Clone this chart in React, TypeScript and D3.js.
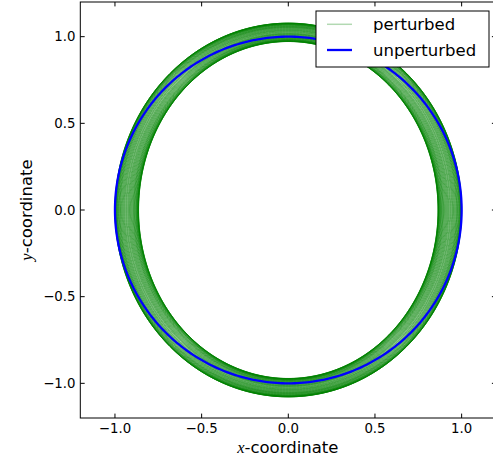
import React, { useEffect } from "react";
import * as d3 from "d3";

// Axis ticks
const xTicks = [-1.0, -0.5, 0.0, 0.5, 1.0];
const yTicks = [-1.0, -0.5, 0.0, 0.5, 1.0];

// Perturbed orbit: one entry per revolution (semi-axis along x, semi-axis along y)
const perturbedSemiX = [
  1.0, 1.0, 0.999, 0.998, 0.997, 0.995, 0.993, 0.99, 0.987, 0.984,
  0.98, 0.976, 0.972, 0.968, 0.963, 0.958, 0.953, 0.948, 0.943, 0.937,
  0.932, 0.926, 0.921, 0.916, 0.911, 0.906, 0.901, 0.896, 0.892, 0.888,
  0.884, 0.88, 0.877, 0.874, 0.871, 0.869, 0.867, 0.866, 0.865, 0.864,
  0.864, 0.864, 0.865, 0.866, 0.867, 0.869, 0.871, 0.874, 0.877, 0.88,
  0.884, 0.888, 0.892, 0.896, 0.901, 0.906, 0.911, 0.916, 0.921, 0.926,
  0.932, 0.937, 0.943, 0.948, 0.953, 0.958, 0.963, 0.968, 0.972, 0.976,
  0.98, 0.984, 0.987, 0.99, 0.993, 0.995, 0.997, 0.998, 0.999, 1.0,
];
const perturbedSemiY = [
  1.078, 1.078, 1.077, 1.076, 1.076, 1.074, 1.073, 1.07, 1.068, 1.066,
  1.062, 1.059, 1.056, 1.053, 1.049, 1.045, 1.041, 1.037, 1.034, 1.029,
  1.025, 1.02, 1.016, 1.013, 1.009, 1.005, 1.001, 0.997, 0.994, 0.991,
  0.988, 0.984, 0.982, 0.98, 0.977, 0.976, 0.974, 0.974, 0.973, 0.972,
  0.972, 0.972, 0.973, 0.974, 0.975, 0.977, 0.979, 0.981, 0.983, 0.986,
  0.989, 0.992, 0.995, 0.999, 1.003, 1.007, 1.011, 1.015, 1.018, 1.022,
  1.027, 1.031, 1.035, 1.039, 1.043, 1.047, 1.051, 1.054, 1.057, 1.06,
  1.063, 1.066, 1.069, 1.071, 1.073, 1.075, 1.076, 1.077, 1.078, 1.078,
];

// Unperturbed orbit: unit circle
const unperturbedRadius = 1.0;

const W = 493;
const H = 461;
const left = 80.3;
const right = 496.3;
const top = 2;
const bottom = 418;

export default function App() {
  useEffect(() => {
    document.body.style.margin = "0";
  }, []);

  const x = d3.scaleLinear().domain([-1.2, 1.2]).range([left, right]);
  const y = d3.scaleLinear().domain([-1.2, 1.2]).range([bottom, top]);

  const angles = d3.range(0, 361).map((d) => (d * Math.PI) / 180);
  const line = d3
    .line<[number, number]>()
    .x((d) => x(d[0]))
    .y((d) => y(d[1]))
    .curve(d3.curveLinear);

  const ellipse = (a: number, b: number) =>
    line(angles.map((t) => [a * Math.cos(t), b * Math.sin(t)] as [number, number])) || "";

  const fmt = (v: number) => (v < 0 ? "\u2212" + Math.abs(v).toFixed(1) : v.toFixed(1));
  const tickLen = 4.4;
  const tickFont = 13.3;
  const bigFont = 16.5;

  return (
    <svg width={W} height={H} style={{ position: "absolute", left: 0, top: 0 }} fontFamily="DejaVu Sans">
      <rect x={0} y={0} width={W} height={H} fill="white" />
      <defs>
        <clipPath id="plotArea">
          <rect x={left} y={top} width={right - left} height={bottom - top} />
        </clipPath>
      </defs>
      <g clipPath="url(#plotArea)">
        {perturbedSemiX.map((a, i) => (
          <path
            key={i}
            d={ellipse(a, perturbedSemiY[i])}
            fill="none"
            stroke="#008000"
            strokeOpacity={0.45}
            strokeWidth={0.9}
          />
        ))}
        <path
          d={ellipse(unperturbedRadius, unperturbedRadius)}
          fill="none"
          stroke="#0000ff"
          strokeWidth={2.3}
        />
      </g>

      {/* frame */}
      <rect x={left} y={top} width={right - left} height={bottom - top} fill="none" stroke="black" strokeWidth={1} />

      {/* x ticks */}
      {xTicks.map((t) => (
        <g key={"x" + t}>
          <line x1={x(t)} x2={x(t)} y1={bottom} y2={bottom - tickLen} stroke="black" />
          <line x1={x(t)} x2={x(t)} y1={top} y2={top + tickLen} stroke="black" />
          <text x={x(t)} y={432.5} fontSize={tickFont} textAnchor="middle" fill="black">
            {fmt(t)}
          </text>
        </g>
      ))}
      {/* y ticks */}
      {yTicks.map((t) => (
        <g key={"y" + t}>
          <line x1={left} x2={left + tickLen} y1={y(t)} y2={y(t)} stroke="black" />
          <line x1={right} x2={right - tickLen} y1={y(t)} y2={y(t)} stroke="black" />
          <text x={75.5} y={y(t) + 4.8} fontSize={tickFont} textAnchor="end" fill="black">
            {fmt(t)}
          </text>
        </g>
      ))}

      {/* axis labels */}
      <text x={(left + right) / 2 - 0.5} y={453} fontSize={bigFont} textAnchor="middle" fill="black">
        <tspan fontFamily="Liberation Serif" fontStyle="italic">x</tspan>-coordinate
      </text>
      <text
        transform={`translate(32,${(top + bottom) / 2}) rotate(-90)`}
        fontSize={bigFont}
        textAnchor="middle"
        fill="black"
      >
        <tspan fontFamily="Liberation Serif" fontStyle="italic">y</tspan>-coordinate
      </text>

      {/* legend */}
      <g>
        <rect x={316} y={11} width={173} height={56} fill="white" stroke="black" strokeWidth={1} />
        <line x1={327} x2={352} y1={24.3} y2={24.3} stroke="#008000" strokeOpacity={0.3} strokeWidth={1.5} />
        <text x={373} y={30} fontSize={bigFont} fill="black">perturbed</text>
        <line x1={327} x2={352} y1={50} y2={50} stroke="#0000ff" strokeWidth={2.3} />
        <text x={373} y={56} fontSize={bigFont} fill="black">unperturbed</text>
      </g>
    </svg>
  );
}
